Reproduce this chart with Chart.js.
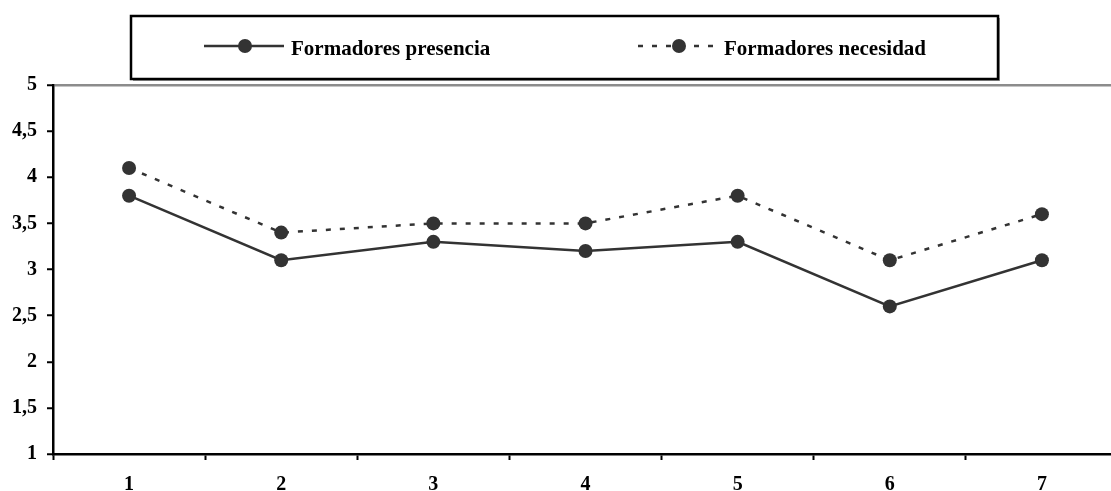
<!DOCTYPE html>
<html>
<head>
<meta charset="utf-8">
<script src="https://cdn.jsdelivr.net/npm/chart.js@4/dist/chart.umd.min.js"></script>
<style>
  html, body { margin: 0; padding: 0; background: #fff; overflow: hidden; }
  #wrap { width: 1125px; height: 491px; }
</style>
</head>
<body>
<div id="wrap"><canvas id="chart" width="1125" height="491"></canvas></div>
<script>
// data
var categories = ["1", "2", "3", "4", "5", "6", "7"];
var presencia = [3.8, 3.1, 3.3, 3.2, 3.3, 2.6, 3.1];
var necesidad = [4.1, 3.4, 3.5, 3.5, 3.8, 3.1, 3.6];
var seriesNames = ["Formadores presencia", "Formadores necesidad"];
var yTicks = [1, 1.5, 2, 2.5, 3, 3.5, 4, 4.5, 5];

var ink = "#333333";
var fontFam = "'Liberation Serif', 'Times New Roman', serif";

// legend drawn in its own box above the plot
var boxLegend = {
	id: "boxLegend",
	afterDraw: function(chart){
		var ctx = chart.ctx;
		ctx.save();
		// shadow + frame
		ctx.fillStyle = "#9a9a9a";
		ctx.fillRect(133, 18, 867, 63);
		ctx.fillStyle = "#fff";
		ctx.fillRect(131, 16, 867, 63);
		ctx.strokeStyle = "#000";
		ctx.lineWidth = 2.5;
		ctx.strokeRect(131, 16, 867, 63);

		var items = [
			{x0: 204, x1: 284, mx: 245, tx: 291, dash: []},
			{x0: 638, x1: 722, mx: 679, tx: 724, dash: [5, 9]}
		];
		var ly = 46;
		for (var i = 0; i < items.length; i++){
			var it = items[i];
			ctx.strokeStyle = ink;
			ctx.lineWidth = 2.5;
			ctx.setLineDash(it.dash);
			ctx.beginPath();
			ctx.moveTo(it.x0, ly);
			ctx.lineTo(it.x1, ly);
			ctx.stroke();
			ctx.setLineDash([]);
			ctx.fillStyle = ink;
			ctx.beginPath();
			ctx.arc(it.mx, ly, 7, 0, Math.PI * 2);
			ctx.fill();
			ctx.fillStyle = "#000";
			ctx.font = "bold 21px " + fontFam;
			ctx.textBaseline = "alphabetic";
			ctx.textAlign = "left";
			ctx.fillText(seriesNames[i], it.tx, 55);
		}
		ctx.restore();
	}
};

new Chart(document.getElementById("chart"), {
	type: "line",
	data: {
		labels: categories,
		datasets: [
			{
				label: seriesNames[0],
				data: presencia,
				borderColor: ink,
				backgroundColor: ink,
				borderWidth: 2.5,
				pointRadius: 7,
				pointBorderWidth: 0,
				tension: 0
			},
			{
				label: seriesNames[1],
				data: necesidad,
				borderColor: ink,
				backgroundColor: ink,
				borderWidth: 2.5,
				borderDash: [5, 9],
				pointRadius: 7,
				pointBorderWidth: 0,
				tension: 0
			}
		]
	},
	options: {
		responsive: false,
		animation: false,
		devicePixelRatio: 1,
		layout: { padding: { top: 85, right: 3, left: 0, bottom: 0 } },
		plugins: {
			legend: { display: false },
			tooltip: { enabled: false }
		},
		scales: {
			x: {
				offset: true,
				grid: {
					offset: true,
					color: "transparent",
					tickColor: "#000",
					tickLength: 6,
					tickWidth: 2
				},
				border: { display: true, color: "#000", width: 2.5 },
				ticks: {
					color: "#000",
					padding: 13,
					maxRotation: 0,
					font: { family: fontFam, size: 20, weight: "bold" }
				},
				afterFit: function(s){ s.height = 37; }
			},
			y: {
				min: yTicks[0],
				max: yTicks[yTicks.length - 1],
				afterBuildTicks: function(s){
					s.ticks = yTicks.map(function(v){ return {value: v}; });
				},
				grid: {
					color: function(c){ return c.tick && c.tick.value === 5 ? "#8c8c8c" : "transparent"; },
					lineWidth: 2.5,
					tickColor: "#000",
					tickLength: 6,
					tickWidth: 2
				},
				border: { display: true, color: "#000", width: 2.5 },
				ticks: {
					color: "#000",
					padding: 10,
					font: { family: fontFam, size: 20, weight: "bold" },
					callback: function(v){ return String(v).replace(".", ","); }
				},
				afterFit: function(s){ s.width = 53; }
			}
		}
	},
	plugins: [boxLegend]
});
</script>
</body>
</html>
